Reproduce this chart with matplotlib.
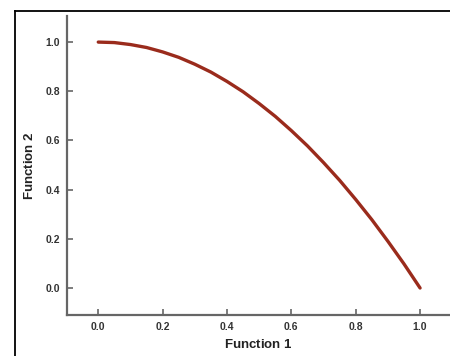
import matplotlib.pyplot as plt
from matplotlib.lines import Line2D

# values
f1 = [0.0, 0.05, 0.1, 0.15, 0.2, 0.25, 0.3, 0.35, 0.4, 0.45, 0.5,
      0.55, 0.6, 0.65, 0.7, 0.75, 0.8, 0.85, 0.9, 0.95, 1.0]
f2 = [1.0, 0.998, 0.99, 0.978, 0.96, 0.938, 0.91, 0.878, 0.84, 0.798, 0.75,
      0.698, 0.64, 0.578, 0.51, 0.438, 0.36, 0.278, 0.19, 0.098, 0.0]
xticks = [0.0, 0.2, 0.4, 0.6, 0.8, 1.0]
yticks = [0.0, 0.2, 0.4, 0.6, 0.8, 1.0]

plt.rcParams['font.family'] = ['Liberation Sans', 'DejaVu Sans']
plt.rcParams['mathtext.fontset'] = 'custom'
plt.rcParams['mathtext.it'] = 'Liberation Sans:style=italic:weight=bold'
plt.rcParams['mathtext.rm'] = 'Liberation Sans:weight=bold'

fig = plt.figure(figsize=(4.5, 3.56), dpi=100)
ax = fig.add_axes([0.149, 0.115, 0.851, 0.84])

ax.plot(f1, f2, color='#9a2b1c', lw=2.4, solid_capstyle='round')

ax.set_xlim(-0.097, 1.093)
ax.set_ylim(-0.11, 1.106)
ax.set_xticks(xticks)
ax.set_yticks(yticks)
ax.set_xticklabels([f'{t:.1f}' for t in xticks], fontsize=7.5, fontweight='bold', color='#333333')
ax.set_yticklabels([f'{t:.1f}' for t in yticks], fontsize=7.5, fontweight='bold', color='#333333')
ax.tick_params(direction='in', length=4, width=1.2, color='#666666', pad=5)

for s in ['top', 'right']:
    ax.spines[s].set_visible(False)
for s in ['left', 'bottom']:
    ax.spines[s].set_color('#666666')
    ax.spines[s].set_linewidth(1.6)

ax.set_xlabel(r'Function $\mathit{1}$', fontsize=9.5, fontweight='bold', labelpad=4, color='#222222')
ax.set_ylabel(r'Function $\mathit{2}$', fontsize=9.5, fontweight='bold', labelpad=7, color='#222222')

# outer frame lines (left and top) of the figure
fig.add_artist(Line2D([15 / 450, 15 / 450], [0, 1 - 11 / 356], transform=fig.transFigure,
                      color='black', lw=1.3))
fig.add_artist(Line2D([15 / 450, 1], [1 - 11 / 356, 1 - 11 / 356], transform=fig.transFigure,
                      color='black', lw=1.3))

fig.savefig('out.png', dpi=100)
